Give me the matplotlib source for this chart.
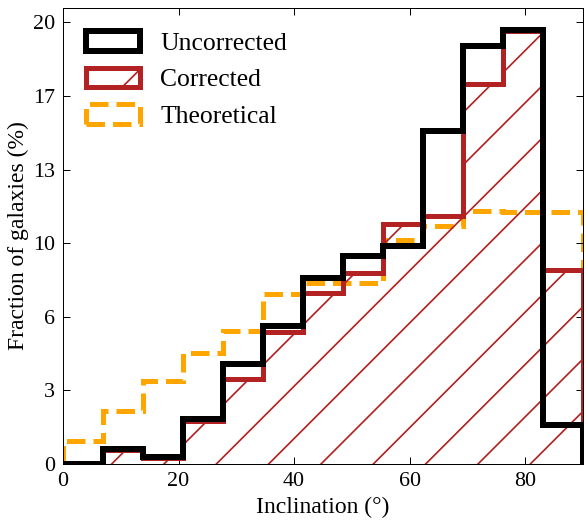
import numpy as np
import matplotlib
matplotlib.use('Agg')
import matplotlib.pyplot as plt

# inclination bins, 13 equal bins between 0 and 90 deg
edges = np.linspace(0, 90, 14)

uncorrected = [0.0, 0.68, 0.32, 2.05, 4.54, 6.27, 8.42, 9.40, 9.86, 15.10, 18.94, 19.67, 1.78]
corrected = [0.0, 0.62, 0.28, 1.95, 3.85, 5.96, 7.74, 8.65, 10.88, 11.25, 17.23, 19.60, 8.77]
theoretical = [1.02, 2.38, 3.74, 5.05, 6.01, 7.71, 8.20, 8.20, 10.16, 10.76, 11.44, 11.40, 11.40]

yticks = np.linspace(0, 20, 7)
ytick_labels = ['0', '3', '6', '10', '13', '17', '20']
xticks = [0, 20, 40, 60, 80]

# dpi picked so the hatch spacing comes out like the original
dpi = 157
px = 72 / dpi  # one pixel in points

plt.rcParams['font.family'] = ['Liberation Serif', 'DejaVu Serif']
plt.rcParams['hatch.linewidth'] = 1.7 * px
plt.rcParams['axes.linewidth'] = 1.0 * px

fig = plt.figure(figsize=(585 / dpi, 523 / dpi), dpi=dpi)
ax = fig.add_axes([63 / 585, 1 - 464 / 523, 520 / 585, 456 / 523])

centers = edges[:-1] + np.diff(edges) / 2
ax.hist(centers, bins=edges, weights=theoretical, histtype='step', color='orange',
        linestyle='--', linewidth=5 * px, label='Theoretical', zorder=1)
ax.hist(centers, bins=edges, weights=corrected, histtype='step', color='firebrick',
        hatch='/', linewidth=5 * px, label='Corrected', zorder=2)
ax.hist(centers, bins=edges, weights=uncorrected, histtype='step', color='black',
        linewidth=6 * px, label='Uncorrected', zorder=3)

ax.set_xlim(0, 90)
ax.set_ylim(0, max(uncorrected) * 1.05)
ax.set_xticks(xticks)
ax.set_yticks(yticks)
ax.set_yticklabels(ytick_labels)
ax.tick_params(direction='in', top=True, right=True, length=7 * px, width=1 * px,
               labelsize=22 * px, pad=8 * px)

ax.set_xlabel('Inclination (°)', fontsize=23.7 * px, labelpad=6 * px)
ax.set_ylabel('Fraction of galaxies (%)', fontsize=23.7 * px, labelpad=4 * px)

handles, labels = ax.get_legend_handles_labels()
order = [2, 1, 0]
ax.legend([handles[i] for i in order], [labels[i] for i in order],
          loc='upper left', frameon=False, fontsize=25.6 * px,
          handlelength=2.1, handleheight=0.8, labelspacing=0.5)

fig.savefig('out.png', dpi=dpi)
